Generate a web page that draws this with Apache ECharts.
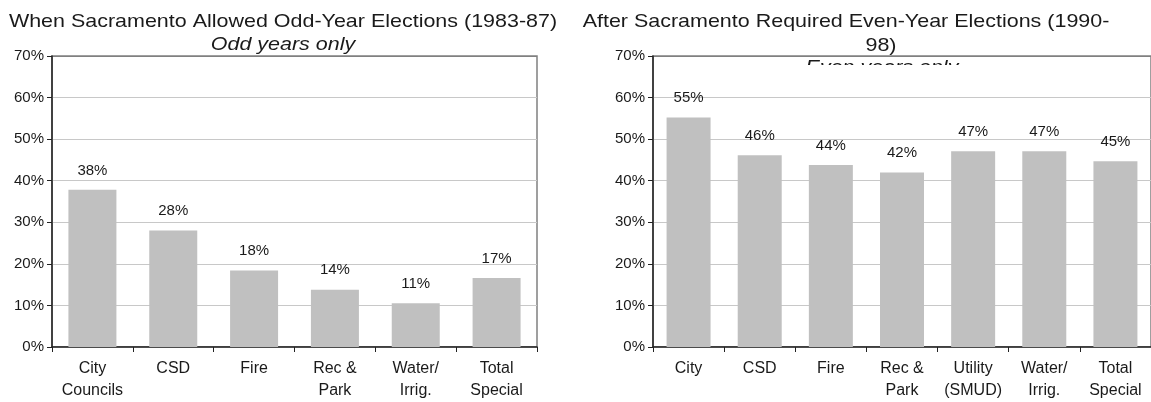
<!DOCTYPE html>
<html>
<head>
<meta charset="utf-8">
<script src="https://cdn.jsdelivr.net/npm/echarts@6/dist/echarts.min.js"></script>
<style>
  html, body { margin: 0; padding: 0; background: #fff; }
  #chart { width: 1151px; height: 402px; }
</style>
</head>
<body>
<div id="chart"></div>
<script>
// odd-year chart (1983-87)
const oddCategories = ['City\nCouncils', 'CSD', 'Fire', 'Rec &\nPark', 'Water/\nIrrig.', 'Total\nSpecial']
const oddValues = [37.8, 28.0, 18.4, 13.8, 10.5, 16.6]

// even-year chart (1990-98)
const evenCategories = ['City', 'CSD', 'Fire', 'Rec &\nPark', 'Utility\n(SMUD)', 'Water/\nIrrig.', 'Total\nSpecial']
const evenValues = [55.2, 46.1, 43.8, 42.0, 47.1, 47.1, 44.7]

const yTicks = [0, 10, 20, 30, 40, 50, 60, 70]

const FONT = '"Liberation Sans", Arial, sans-serif'
const TEXT = '#1a1a1a'
const BAR = '#c0c0c0'

const chart = echarts.init(document.getElementById('chart'), null, { renderer: 'canvas' })

// top gridline darker like the plot frame
const gridColors = yTicks.map((t, i) => i === yTicks.length - 1 ? '#808080' : '#c8c8c8')

const makeX = (gridIndex, data) => ({
  type: 'category',
  gridIndex,
  data,
  axisLine: { lineStyle: { color: '#222', width: 1.5 } },
  axisTick: { show: true, length: 5, inside: false, alignWithLabel: false, lineStyle: { color: '#222' } },
  axisLabel: { color: TEXT, fontFamily: FONT, fontSize: 16, lineHeight: 22, margin: 11, interval: 0 }
})

const makeY = (gridIndex) => ({
  type: 'value',
  gridIndex,
  min: yTicks[0],
  max: yTicks[yTicks.length - 1],
  interval: 10,
  axisLine: { show: true, lineStyle: { color: '#222', width: 1.5 } },
  axisTick: { show: true, length: 5, lineStyle: { color: '#222' } },
  axisLabel: { color: TEXT, fontFamily: FONT, fontSize: 15, margin: 8, formatter: '{value}%' },
  splitLine: { show: true, lineStyle: { color: gridColors, width: 1 } }
})

const makeBars = (idx, values, width) => ({
  type: 'bar',
  xAxisIndex: idx,
  yAxisIndex: idx,
  data: values,
  barWidth: width,
  itemStyle: { color: BAR },
  label: {
    show: true,
    position: 'top',
    distance: 12,
    color: TEXT,
    fontFamily: FONT,
    fontSize: 15,
    formatter: p => Math.round(p.value) + '%'
  },
  silent: true
})

const titleText = (text, x, y, italic) => ({
  type: 'text',
  x, y,
  scaleX: 1.13,
  z: 5,
  style: {
    text,
    fill: TEXT,
    font: (italic ? 'italic ' : '') + '19px ' + FONT,
    align: 'center',
    verticalAlign: 'middle'
  }
})

const option = {
  animation: false,
  backgroundColor: '#fff',
  grid: [
    { left: 52, top: 56, width: 485, height: 294, show: true, borderColor: '#808080', borderWidth: 1.5, backgroundColor: 'transparent' },
    { left: 653, top: 56, width: 499, height: 294, show: true, borderColor: '#808080', borderWidth: 1.5, backgroundColor: 'transparent' }
  ],
  xAxis: [makeX(0, oddCategories), makeX(1, evenCategories)],
  yAxis: [makeY(0), makeY(1)],
  series: [makeBars(0, oddValues, 48), makeBars(1, evenValues, 44)],
  graphic: [
    titleText('When Sacramento Allowed Odd-Year Elections (1983-87)', 283, 22, false),
    titleText('Odd years only', 283, 45, true),
    titleText('After Sacramento Required Even-Year Elections (1990-', 846, 22, false),
    titleText('98)', 881, 46, false),
    titleText('Even years only', 882, 68, true),
    // plot area hides the lower part of the subtitle
    { type: 'rect', z: 10, shape: { x: 780, y: 65, width: 200, height: 22 }, style: { fill: '#fff' } }
  ]
}

chart.setOption(option)
</script>
</body>
</html>
